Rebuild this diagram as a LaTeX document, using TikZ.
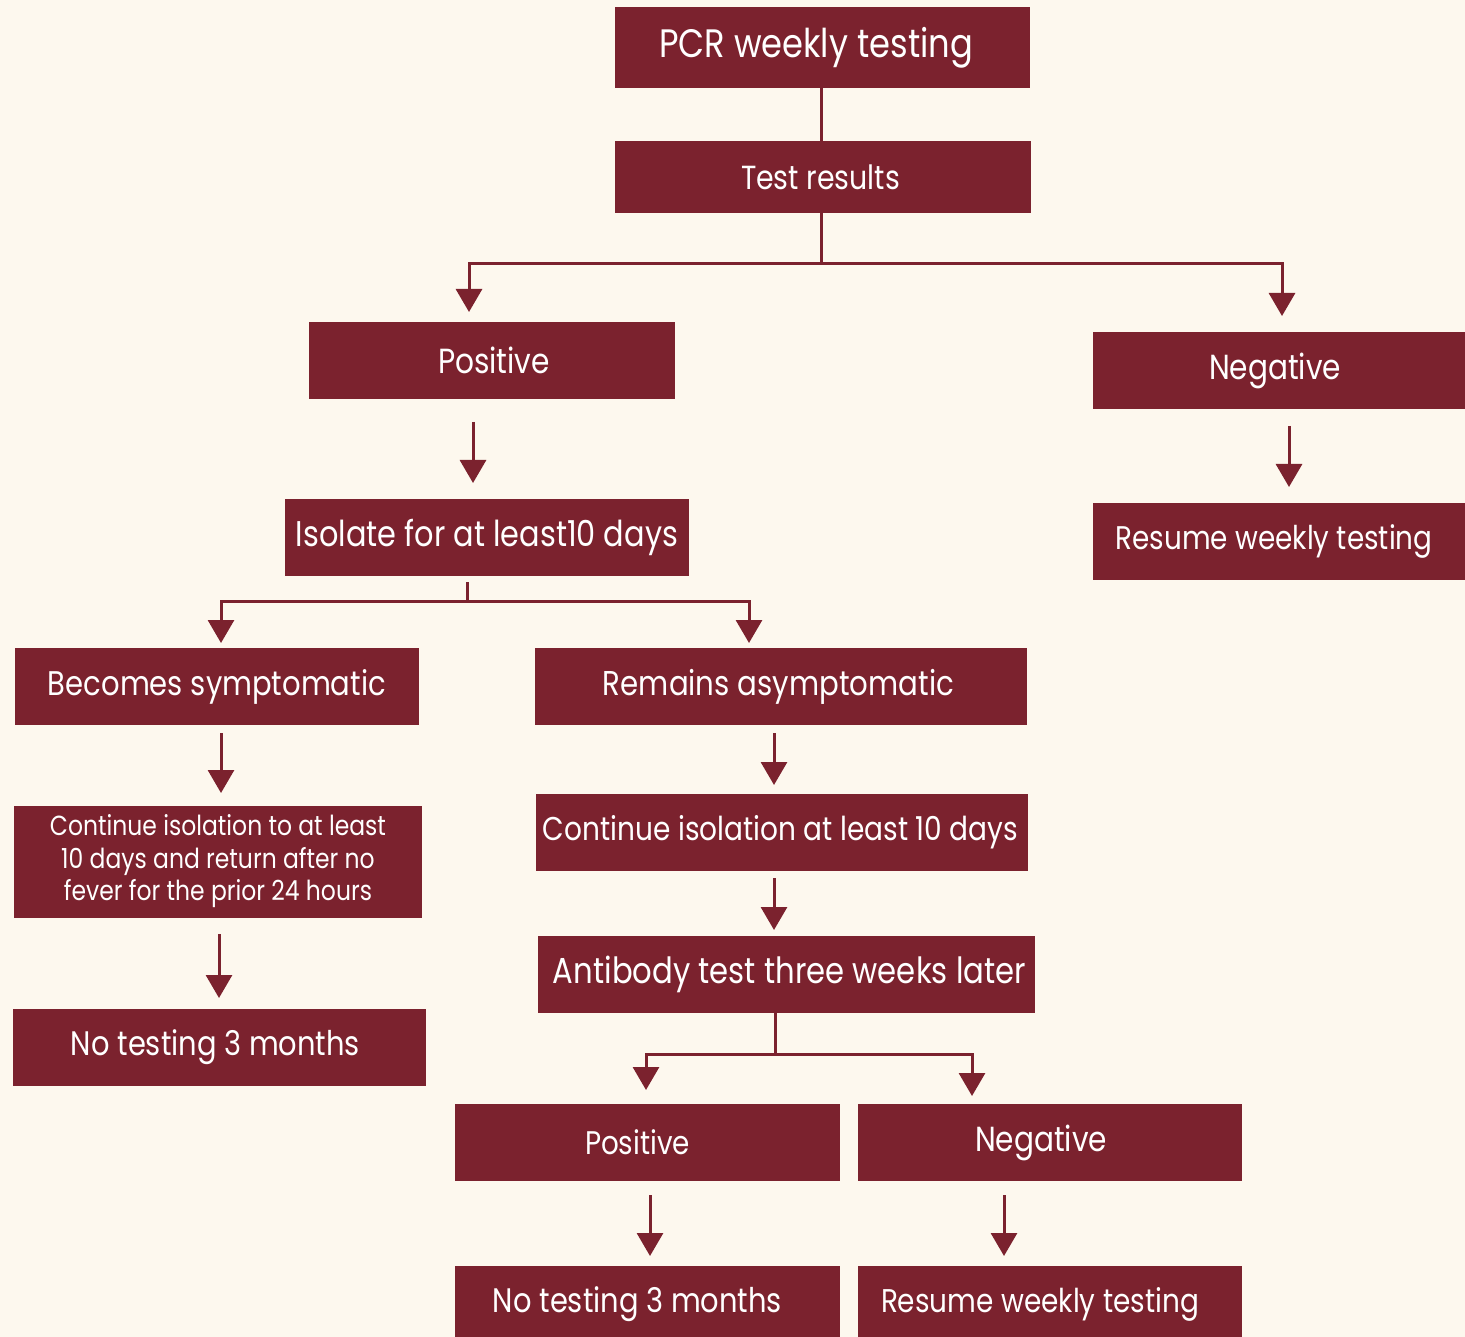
\documentclass[tikz,border=0pt]{standalone}
\usepackage{fontspec}
\setmainfont{Poppins}[FakeStretch=0.85]
\usepackage{graphicx}
\usetikzlibrary{arrows.meta,calc}
\definecolor{boxred}{HTML}{7B222E}
\definecolor{cream}{HTML}{FDF8EE}
\newcommand{\fw}[2]{\resizebox{#1pt}{!}{#2}}
\begin{document}
\begin{tikzpicture}[x=1pt,y=-1pt,
  box/.style={fill=boxred,text=white,inner sep=0pt,outer sep=0pt,minimum height=77pt,font=\fontsize{30}{34}\selectfont},
  ln/.style={draw=boxred,line width=3pt},
  arr/.style={ln,-{Triangle[width=26pt,length=23pt]}}]
\fill[cream] (0,0) rectangle (1465,1337);
\useasboundingbox (0,0) rectangle (1465,1337);

\node[box,minimum width=415pt,minimum height=81pt] (pcr) at (822.5,47.5) {\fw{314}{PCR weekly testing}\hspace*{13pt}};
\node[box,minimum width=416pt,minimum height=72pt] (res) at (823,177) {\fw{159}{Test results}\hspace*{5pt}};
\node[box,minimum width=366pt] (pos) at (492,360.5) {\hspace*{4pt}\fw{112}{Positive}};
\node[box,minimum width=372pt] (neg) at (1279,370.5) {\fw{132}{Negative}\hspace*{8pt}};
\node[box,minimum width=404pt] (iso) at (487,537.5) {\fw{382}{Isolate for at least10 days}};
\node[box,minimum width=372pt] (negres) at (1279,541.5) {\fw{317}{Resume weekly testing}\hspace*{10pt}};
\node[box,minimum width=404pt] (sym) at (217,686.5) {\fw{338}{Becomes symptomatic}};
\node[box,minimum width=492pt] (asym) at (781,686.5) {\fw{351}{Remains asymptomatic}\hspace*{5pt}};
\node[box,minimum width=408pt,minimum height=112pt] (cont1) at (218,862) {\fw{336}{\begin{tabular}{@{}c@{}}Continue isolation to at least\\[1.5pt]10 days and return after no\\[1.5pt]fever for the prior 24 hours\end{tabular}}};
\node[box,minimum width=492pt] (cont2) at (782,832.5) {\fw{475}{Continue isolation at least 10 days}\hspace*{3pt}};
\node[box,minimum width=413pt] (not1) at (219.5,1047.5) {\fw{289}{No testing 3 months}\hspace*{8pt}};
\node[box,minimum width=497pt] (anti) at (786.5,974.5) {\hspace*{6pt}\fw{473}{Antibody test three weeks later}};
\node[box,minimum width=385pt] (pos2) at (647.5,1142.5) {\fw{105}{Positive}\hspace*{20pt}};
\node[box,minimum width=384pt] (neg2) at (1050,1142.5) {\fw{132}{Negative}\hspace*{18pt}};
\node[box,minimum width=385pt] (not2) at (647.5,1304.5) {\fw{289}{No testing 3 months}\hspace*{20pt}};
\node[box,minimum width=384pt] (res2) at (1050,1304.5) {\fw{318}{Resume weekly testing}\hspace*{20pt}};

% connectors
\draw[ln] ([xshift=-1.5pt]pcr.south) -- ([xshift=-2pt]res.north);
\draw[arr,shorten >=10pt] ([xshift=-2pt]res.south) -- ++(0,51) -| ([xshift=-23pt]pos.north);
\draw[arr,shorten >=16pt] ([xshift=-2pt]res.south) -- ++(0,51) -| ([xshift=3pt]neg.north);
\draw[arr] ($(pos.south)+(-19,23)$) -- ($(iso.north)+(-14,-16)$);
\draw[arr] ($(neg.south)+(10,17)$) -- ($(negres.north)+(10,-16)$);
\draw[arr,shorten >=5pt] ($(iso.south)+(-20,6)$) -- ++(0,19) -| ([xshift=4pt]sym.north);
\draw[arr,shorten >=5pt] ($(iso.south)+(-20,6)$) -- ++(0,19) -| ([xshift=-32pt]asym.north);
\draw[arr] ($(sym.south)+(4,8)$) -- ($(cont1.north)+(3,-13)$);
\draw[arr] ($(asym.south)+(-7,8)$) -- ($(cont2.north)+(-8,-9)$);
\draw[arr] ($(cont1.south)+(1,16)$) -- ($(not1.north)+(-0.5,-11)$);
\draw[arr] ($(cont2.south)+(-8,7)$) -- ($(anti.north)+(-12.5,-6)$);
\draw[arr,shorten >=14pt] ([xshift=-11.5pt]anti.south) -- ++(0,41) -| ([xshift=-1.5pt]pos2.north);
\draw[arr,shorten >=8pt] ([xshift=-11.5pt]anti.south) -- ++(0,41) -| ([xshift=-78pt]neg2.north);
\draw[arr] ($(pos2.south)+(2.5,14)$) -- ($(not2.north)+(2.5,-10)$);
\draw[arr] ($(neg2.south)+(-46,14)$) -- ($(res2.north)+(-46,-10)$);
\end{tikzpicture}
\end{document}
